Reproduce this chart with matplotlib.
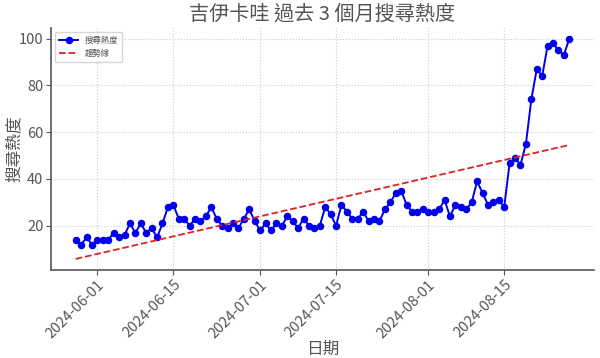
import numpy as np
import pandas as pd
import matplotlib
matplotlib.use("Agg")
import matplotlib.pyplot as plt
import matplotlib.dates as mdates

plt.rcParams['font.family'] = ['Noto Sans CJK TC', 'DejaVu Sans']

start_date = "2024-05-28"
search_heat = [
    14, 12, 15, 12, 14, 14, 14, 17, 15, 16, 21, 17, 21, 17, 19, 15, 21,
    28, 29, 23, 23, 20, 23, 22, 24, 28, 23, 20, 19, 21, 19, 23, 27, 22, 18,
    21, 18, 21, 20, 24, 22, 19, 23, 20, 19, 20, 28, 25, 20, 29, 26, 23,
    23, 26, 22, 23, 22, 27, 30, 34, 35, 29, 26, 26, 27, 26, 26, 27, 31, 24,
    29, 28, 27, 30, 39, 34, 29, 30, 31, 28, 47, 49, 46, 55,
    74, 87, 84, 97, 98, 95, 93, 100,
]
dates = pd.date_range(start_date, periods=len(search_heat), freq="D")
tick_dates = pd.to_datetime(["2024-06-01", "2024-06-15", "2024-07-01",
                             "2024-07-15", "2024-08-01", "2024-08-15"])

# linear trend over the series
xs = np.arange(len(search_heat))
k, b = np.polyfit(xs, search_heat, 1)
trend = k * xs + b

txt = '#555555'
fig = plt.figure(figsize=(6, 3.58), dpi=100)
ax = fig.add_axes([0.085, 0.246, 0.905, 0.677])

ax.plot(dates, search_heat, color='#0000ee', marker='o', markersize=4.4,
        linewidth=1.4, label='搜尋熱度')
ax.plot(dates, trend, color='#dd2222', linestyle='--', linewidth=1.3, label='趨勢線')

ax.set_xticks(tick_dates)
ax.xaxis.set_major_formatter(mdates.DateFormatter('%Y-%m-%d'))
plt.setp(ax.get_xticklabels(), rotation=45, ha='right', rotation_mode='anchor')
ax.set_yticks([20, 40, 60, 80, 100])

ax.grid(True, linestyle=':', color='#cccccc', linewidth=0.8)
for s in ['top', 'right']:
    ax.spines[s].set_visible(False)
for s in ['left', 'bottom']:
    ax.spines[s].set_color('#555555')
    ax.spines[s].set_linewidth(1.2)
ax.tick_params(colors='#555555', labelcolor=txt, labelsize=10.5, length=3.5, pad=2)

ax.set_title('吉伊卡哇 過去 3 個月搜尋熱度', fontsize=14.5, color=txt, pad=6)
ax.set_xlabel('日期', fontsize=12, color=txt, labelpad=0)
ax.set_ylabel('搜尋熱度', fontsize=12, color=txt)
ax.yaxis.set_label_coords(-0.052, 0.5)

leg = ax.legend(loc='upper left', fontsize=6, frameon=True, borderpad=0.5,
                handlelength=2.2)
for t in leg.get_texts():
    t.set_color(txt)

fig.savefig('out.png', dpi=100)
